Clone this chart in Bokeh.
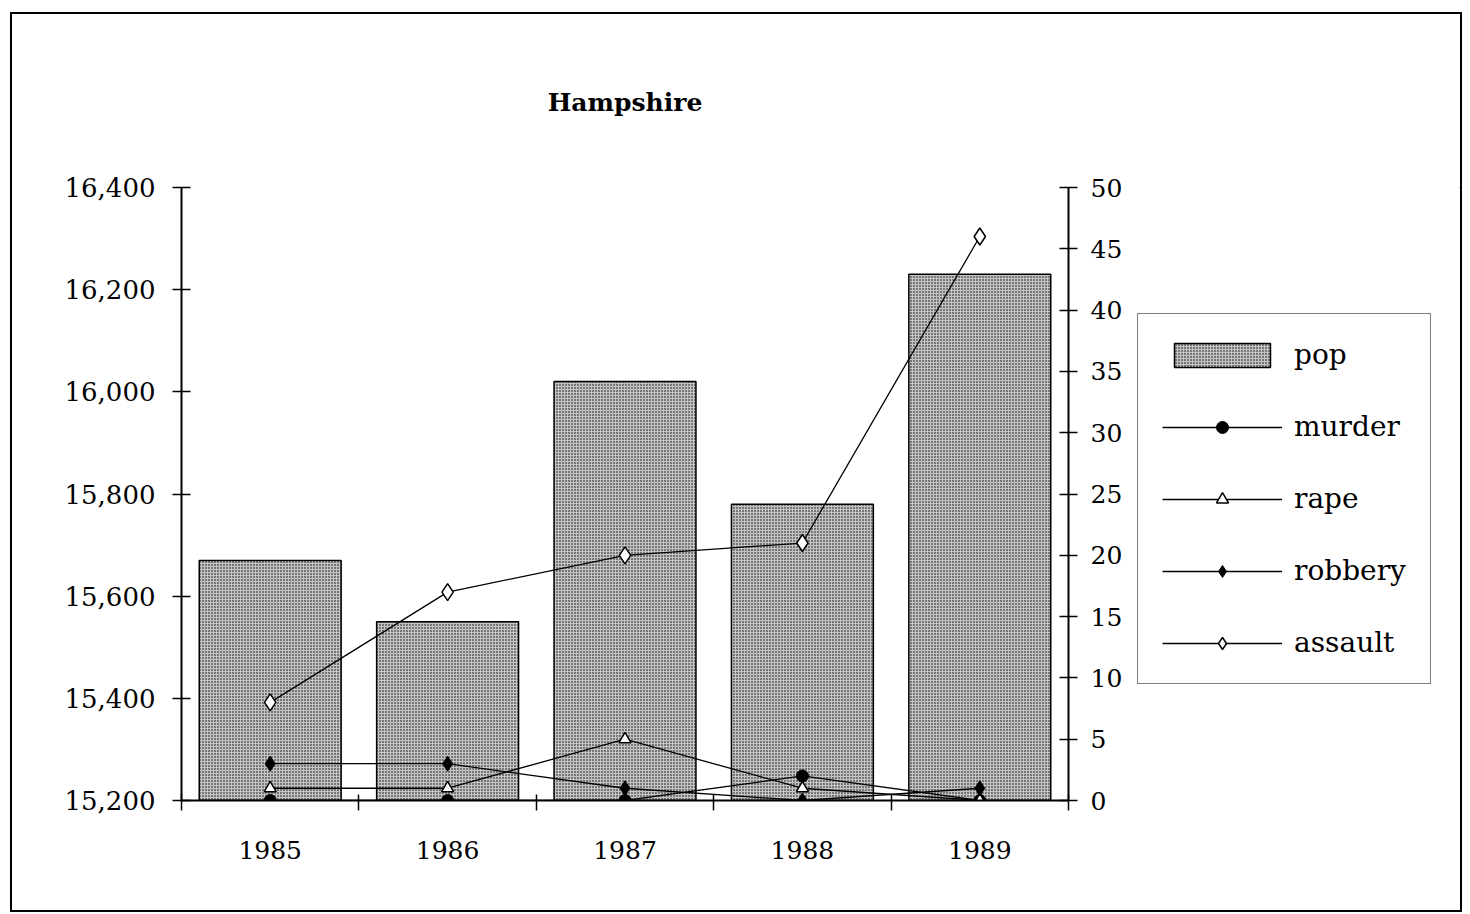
from bokeh.plotting import figure
from bokeh.layouts import row
from bokeh.models import (Range1d, LinearAxis, FixedTicker, SingleIntervalTicker,
                          NumeralTickFormatter, Legend, LegendItem, ColumnDataSource)
from bokeh.embed import file_html
from bokeh.resources import INLINE

years = [1985, 1986, 1987, 1988, 1989]
pop = [15670, 15550, 16020, 15780, 16230]
murder = [0, 0, 0, 2, 0]
rape = [1, 1, 5, 1, 0]
robbery = [3, 3, 1, 0, 1]
assault = [8, 17, 20, 21, 46]

FONT = "DejaVu Serif"

src = ColumnDataSource(dict(year=years, pop=pop, murder=murder, rape=rape,
                            robbery=robbery, assault=assault))

p = figure(frame_width=887, frame_height=613, output_backend="svg", toolbar_location=None,
           x_range=Range1d(1984.5, 1989.5), y_range=Range1d(15200, 16400),
           min_border_left=169, min_border_right=60, min_border_top=173,
           min_border_bottom=110)
p.extra_y_ranges = {"r": Range1d(0, 50)}
p.outline_line_color = None
p.xgrid.visible = False
p.ygrid.visible = False
p.background_fill_color = "white"
p.border_fill_color = "white"

p.title.text = "Hampshire"
p.title.align = "center"
p.title.text_font = FONT
p.title.text_font_style = "bold"
p.title.text_font_size = "25px"
p.title.text_color = "black"
p.title.standoff = 141

BAR = dict(fill_color="#c4c4c4", line_color="black", line_width=1.5,
           hatch_pattern="dot", hatch_scale=3, hatch_weight=1.8, hatch_color="black")
LW = 1.3
SERIES = [
    ("murder", dict(marker="circle", size=12, fill_color="black", line_color="black")),
    ("rape", dict(marker="triangle", size=12, fill_color="white", line_color="black", line_width=1.5)),
    ("robbery", dict(marker="diamond", size=15, fill_color="black", line_color="black")),
    ("assault", dict(marker="diamond", size=17, fill_color="white", line_color="black", line_width=1.5)),
]


def draw(fig, yr):
    kw = {"y_range_name": yr} if yr else {}
    b = fig.vbar(x="year", top="pop", bottom=15200, width=0.8, source=src, **BAR)
    out = [("pop", [b])]
    for name, mk in SERIES:
        ln = fig.line("year", name, source=src, line_color="black", line_width=LW, **kw)
        sc = fig.scatter("year", name, source=src, **mk, **kw)
        out.append((name, [ln, sc]))
    return out


draw(p, "r")

# x axis
xa = p.xaxis[0]
xa.ticker = FixedTicker(ticks=years, minor_ticks=[y - 0.5 for y in years] + [years[-1] + 0.5])
xa.major_tick_in = 0
xa.major_tick_out = 0
xa.minor_tick_in = 6
xa.minor_tick_out = 10
xa.minor_tick_line_color = "black"
xa.minor_tick_line_width = 1.5
xa.axis_line_width = 2
xa.major_label_text_font = FONT
xa.major_label_text_font_size = "25px"
xa.major_label_text_color = "black"
xa.major_label_standoff = 30

# left axis
ya = p.yaxis[0]
ya.ticker = SingleIntervalTicker(interval=200)
ya.formatter = NumeralTickFormatter(format="0,0")
ya.major_tick_in = 9
ya.major_tick_out = 9
ya.minor_tick_line_color = None
ya.axis_line_width = 2
ya.major_tick_line_width = 1.5
ya.major_label_text_font = FONT
ya.major_label_text_font_size = "26px"
ya.major_label_text_color = "black"
ya.major_label_standoff = 17

# right axis
ra = LinearAxis(y_range_name="r", ticker=SingleIntervalTicker(interval=5))
ra.major_tick_in = 9
ra.major_tick_out = 9
ra.minor_tick_line_color = None
ra.axis_line_width = 2
ra.major_tick_line_width = 1.5
ra.major_label_text_font = FONT
ra.major_label_text_font_size = "25px"
ra.major_label_text_color = "black"
ra.major_label_standoff = 13
p.add_layout(ra, "right")

# legend panel (second figure; its renderers lie outside its ranges)
pl = figure(width=332, height=896, output_backend="svg", toolbar_location=None,
            x_range=Range1d(0, 1), y_range=Range1d(0, 1),
            x_axis_type=None, y_axis_type=None,
            min_border_left=0, min_border_right=0, min_border_top=0, min_border_bottom=0)
pl.outline_line_color = None
pl.xgrid.visible = False
pl.ygrid.visible = False
pl.border_fill_color = "white"
items = draw(pl, None)

legend = Legend(items=[LegendItem(label=n, renderers=r) for n, r in items],
                location=(9, 116))
legend.border_line_color = "black"
legend.border_line_width = 1.5
legend.background_fill_alpha = 1
legend.glyph_width = 120
legend.glyph_height = 30
legend.spacing = 39
legend.padding = 24
legend.margin = 0
legend.label_standoff = 12
legend.label_text_font = FONT
legend.label_text_font_size = "28px"
legend.label_text_color = "black"
pl.add_layout(legend, "center")

layout = row(p, pl, spacing=0,
             styles={"border": "2px solid black", "margin-left": "10px", "margin-top": "12px"})

open("out.html", "w").write(file_html(layout, INLINE))
